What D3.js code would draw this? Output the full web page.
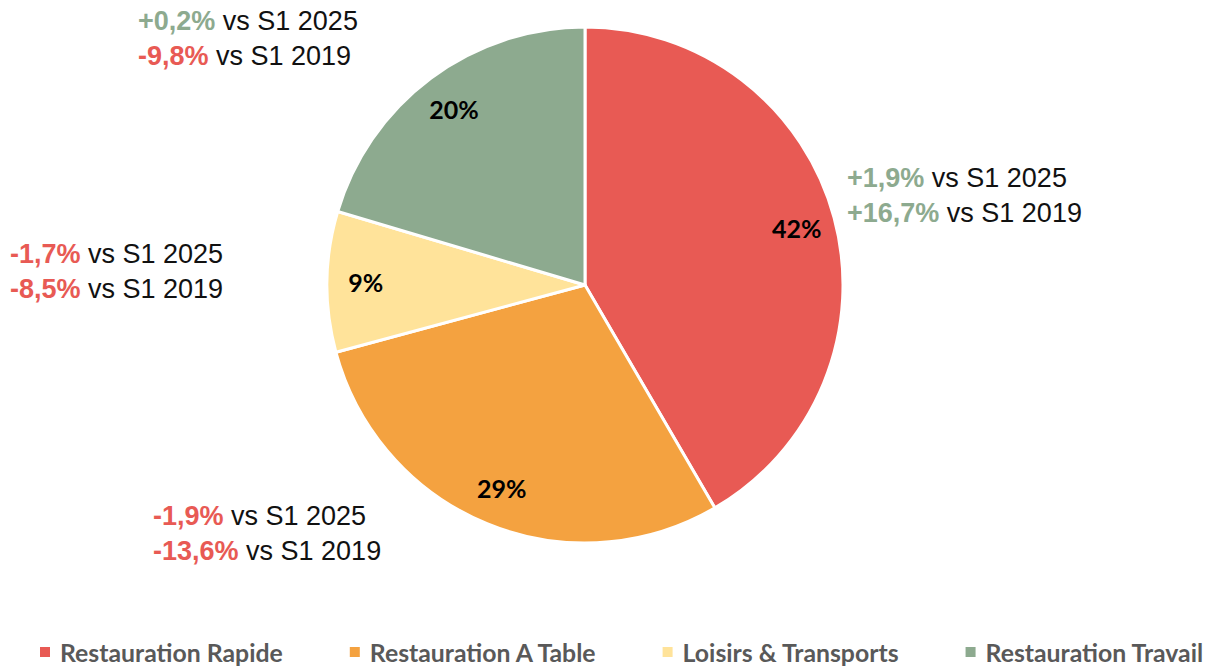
<!DOCTYPE html>
<html>
<head>
<meta charset="utf-8">
<script src="https://cdn.jsdelivr.net/npm/d3@7"></script>
<style>
  html, body { margin: 0; padding: 0; background: #fff; }
  svg { display: block; }
</style>
</head>
<body>
<svg id="chart" width="1213" height="668"></svg>
<script>
// ---- data ----
const categories = ["Restauration Rapide", "Restauration A Table", "Loisirs & Transports", "Restauration Travail"];
const shares = [41.6, 29.2, 8.8, 20.4];
const vs2025 = ["+1,9%", "-1,9%", "-1,7%", "+0,2%"];
const vs2019 = ["+16,7%", "-13,6%", "-8,5%", "-9,8%"];
const colors = ["#E85A54", "#F4A240", "#FFE39A", "#8DAA8F"];

// ---- layout ----
const W = 1213, H = 668;
const cx = 585, cy = 285, R = 258;
const posColor = "#8DAA8F", negColor = "#E85A54";
// annotation anchors (left x, first baseline) per slice
const annotLayout = [[847, 187], [153, 525], [10, 263], [138, 30]];

const svg = d3.select("#chart");
const g = svg.append("g").attr("transform", `translate(${cx},${cy})`);

const pie = d3.pie().sort(null).value(d => d.v);
const arcs = pie(shares.map((v, i) => ({v, i})));
const arc = d3.arc().innerRadius(0).outerRadius(R);
const labelArc = d3.arc().innerRadius(R * 0.85).outerRadius(R * 0.85);

g.selectAll("path.slice").data(arcs).join("path")
  .attr("class", "slice")
  .attr("d", arc)
  .attr("fill", d => colors[d.data.i])
  .attr("stroke", "#fff")
  .attr("stroke-width", 3)
  .attr("stroke-linejoin", "round");

g.selectAll("text.pct").data(arcs).join("text")
  .attr("class", "pct")
  .attr("transform", d => `translate(${labelArc.centroid(d)})`)
  .attr("text-anchor", "middle")
  .attr("dominant-baseline", "central")
  .attr("font-family", "Lato, 'Open Sans', sans-serif")
  .attr("font-weight", 700)
  .attr("font-size", 25)
  .attr("fill", "#000")
  .text(d => Math.round(d.data.v) + "%");

// annotations
const annot = svg.append("g").attr("font-family", "'Liberation Sans', Arial, sans-serif").attr("font-size", 27);
categories.forEach((c, i) => {
  const [x, y] = annotLayout[i];
  [[vs2025[i], "vs S1 2025"], [vs2019[i], "vs S1 2019"]].forEach((pair, k) => {
    const t = annot.append("text").attr("x", x).attr("y", y + k * 35);
    t.append("tspan").attr("font-weight", 700)
      .attr("fill", pair[0].startsWith("-") ? negColor : posColor)
      .text(pair[0]);
    t.append("tspan").attr("fill", "#111").text(" " + pair[1]);
  });
});

// legend
const leg = svg.append("g").attr("font-family", "Lato, 'Open Sans', sans-serif")
  .attr("font-weight", 700).attr("font-size", 24.8);
let lx = 40;
const ly = 652;
categories.forEach((c, i) => {
  leg.append("rect").attr("x", lx).attr("y", ly - 5).attr("width", 10).attr("height", 10).attr("fill", colors[i]);
  const t = leg.append("text").attr("x", lx + 20).attr("y", ly).attr("dominant-baseline", "central")
    .attr("fill", "#595959").text(c);
  const w = t.node().getComputedTextLength();
  lx += 20 + w + 67;
});
</script>
</body>
</html>
